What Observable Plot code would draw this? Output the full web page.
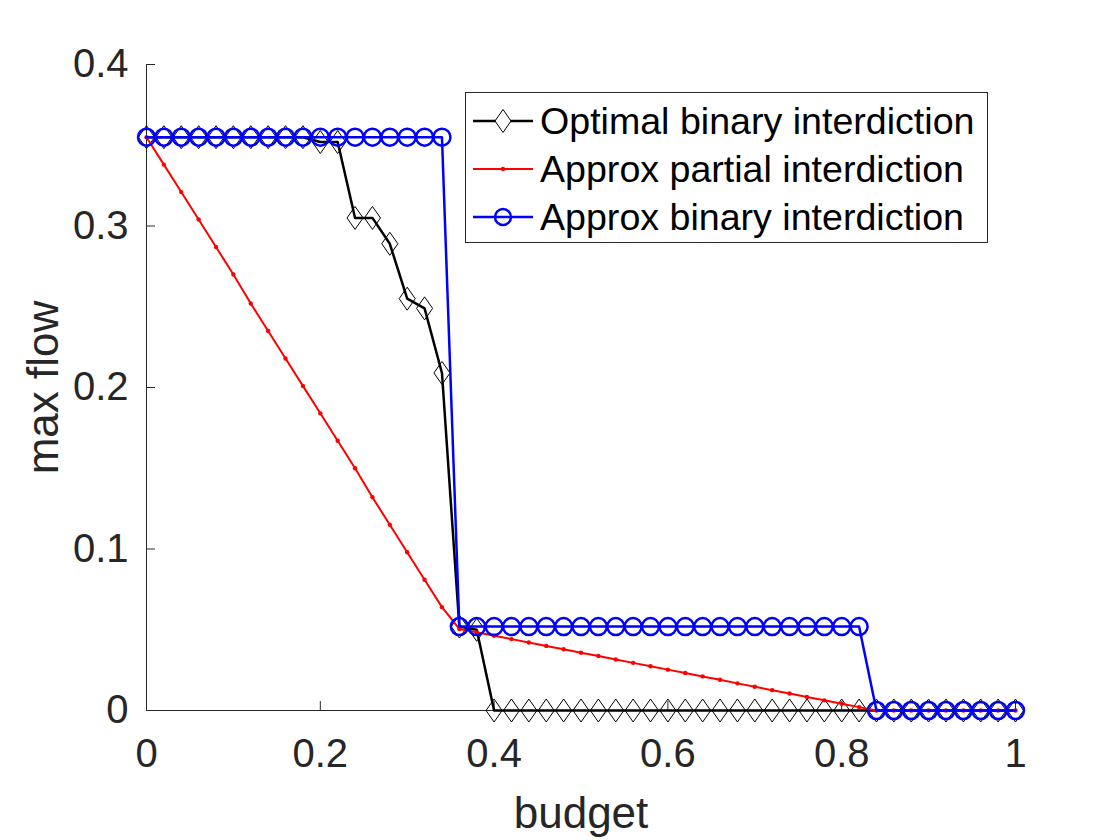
<!DOCTYPE html>
<html><head><meta charset="utf-8">
<script src="https://cdn.jsdelivr.net/npm/d3@7"></script>
<script src="https://cdn.jsdelivr.net/npm/@observablehq/plot@0.6"></script>
<style>
html,body{margin:0;padding:0;background:#fff;}
#wrap{position:relative;width:1120px;height:840px;font-family:"Liberation Sans",Arial,sans-serif;}
#chart svg{overflow:visible;display:block;}
#legend{position:absolute;left:465px;top:92px;width:523px;height:151px;border:1px solid #262626;background:#fff;box-sizing:border-box;}
.row{position:absolute;left:0;height:48px;display:flex;align-items:center;font-size:37.6px;color:#000;white-space:nowrap;}
.row svg{margin-left:7px;margin-right:7px;display:block;}
</style></head>
<body><div id="wrap"><div id="chart"></div><div id="legend"></div></div>
<script>
// ---- data ----
const budget = [0,0.02,0.04,0.06,0.08,0.10,0.12,0.14,0.16,0.18,0.20,0.22,0.24,0.26,0.28,0.30,0.32,0.34,0.36,0.38,0.40,0.42,0.44,0.46,0.48,0.50,0.52,0.54,0.56,0.58,0.60,0.62,0.64,0.66,0.68,0.70,0.72,0.74,0.76,0.78,0.80,0.82,0.84,0.86,0.88,0.90,0.92,0.94,0.96,0.98,1.00];
const optimalBinary = [0.355,0.355,0.355,0.355,0.355,0.355,0.355,0.355,0.355,0.355,0.352,0.352,0.305,0.305,0.289,0.255,0.249,0.209,0.052,0.050,0,0,0,0,0,0,0,0,0,0,0,0,0,0,0,0,0,0,0,0,0,0,0,0,0,0,0,0,0,0,0];
const approxPartial = [0.355,0.338,0.321,0.304,0.287,0.270,0.252,0.235,0.218,0.201,0.184,0.167,0.150,0.132,0.115,0.098,0.081,0.064,0.0505,0.0484,0.0463,0.0442,0.0421,0.0400,0.0379,0.0358,0.0337,0.0316,0.0295,0.0274,0.0253,0.0232,0.0211,0.0190,0.0168,0.0147,0.0126,0.0105,0.0084,0.0063,0.0042,0.0021,0,0,0,0,0,0,0,0,0];
const approxBinary = [0.355,0.355,0.355,0.355,0.355,0.355,0.355,0.355,0.355,0.355,0.355,0.355,0.355,0.355,0.355,0.355,0.355,0.355,0.052,0.052,0.052,0.052,0.052,0.052,0.052,0.052,0.052,0.052,0.052,0.052,0.052,0.052,0.052,0.052,0.052,0.052,0.052,0.052,0.052,0.052,0.052,0.052,0,0,0,0,0,0,0,0,0];
const seriesNames = ["Optimal binary interdiction","Approx partial interdiction","Approx binary interdiction"];
const seriesColors = ["#000000","#ff0000","#0000ff"];
const xTicks = [0,0.2,0.4,0.6,0.8,1];
const yTicks = [0,0.1,0.2,0.3,0.4];
const xLabel = "budget";
const yLabel = "max flow";

const rows = budget.map((b,i)=>({b, opt: optimalBinary[i], part: approxPartial[i], bin: approxBinary[i]}));

const diamond = {draw(ctx, size){ const r = Math.sqrt(size/Math.PI); const h = r, w = r*0.7;
  ctx.moveTo(0,-h); ctx.lineTo(w,0); ctx.lineTo(0,h); ctx.lineTo(-w,0); ctx.closePath(); }};

const fmt = d => String(+d.toFixed(1));
const axisColor = "#262626";

const chart = Plot.plot({
  width: 1120, height: 840,
  marginLeft: 146, marginRight: 105, marginTop: 64, marginBottom: 130,
  style: {fontFamily: "'Liberation Sans', Arial, sans-serif", background: "white", color: axisColor},
  x: {domain: [0,1]},
  y: {domain: [0,0.4]},
  marks: [
    Plot.ruleY([0], {stroke: axisColor, strokeWidth: 1}),
    Plot.ruleX([0], {stroke: axisColor, strokeWidth: 1}),
    Plot.axisX(xTicks, {tickSize: -9, tickPadding: 37, tickFormat: fmt, fontSize: 40, label: null}),
    Plot.axisY(yTicks, {tickSize: -9, tickPadding: 27, tickFormat: fmt, fontSize: 40, label: null}),
    Plot.text([xLabel], {text: d=>d, frameAnchor: "bottom", lineAnchor: "bottom", dy: 117, fontSize: 44, fill: axisColor}),
    Plot.text([yLabel], {text: d=>d, frameAnchor: "left", textAnchor: "middle", lineAnchor: "bottom", rotate: -90, dx: -89, fontSize: 44, fill: axisColor}),
    // Optimal binary
    Plot.line(rows, {x: "b", y: "opt", stroke: seriesColors[0], strokeWidth: 2.5}),
    Plot.dot(rows, {x: "b", y: "opt", symbol: diamond, r: 11.5, stroke: seriesColors[0], strokeWidth: 1, fill: "none"}),
    // Approx partial
    Plot.line(rows, {x: "b", y: "part", stroke: seriesColors[1], strokeWidth: 2}),
    Plot.dot(rows, {x: "b", y: "part", r: 2.2, fill: seriesColors[1], stroke: "none"}),
    // Approx binary
    Plot.line(rows, {x: "b", y: "bin", stroke: seriesColors[2], strokeWidth: 2.5}),
    Plot.dot(rows, {x: "b", y: "bin", r: 8.5, stroke: seriesColors[2], strokeWidth: 2.5, fill: "none"})
  ]
});
document.getElementById("chart").appendChild(chart);

// legend
const legend = document.getElementById("legend");
const markerSvg = [
  '<path d="M30,3.5 L38,15 L30,26.5 L22,15 Z" fill="#fff" stroke="#000" stroke-width="1"/>',
  '<circle cx="30" cy="15" r="2.2" fill="#ff0000"/>',
  '<circle cx="30" cy="15" r="8" fill="none" stroke="#0000ff" stroke-width="2.5"/>'
];
seriesNames.forEach((name,i)=>{
  const row = document.createElement("div");
  row.className = "row";
  row.style.top = (4 + i*48) + "px";
  row.innerHTML = '<svg width="60" height="30" viewBox="0 0 60 30"><line x1="0" y1="15" x2="60" y2="15" stroke="'+seriesColors[i]+'" stroke-width="'+(i===1?2:2.5)+'"/>'+markerSvg[i]+'</svg><span>'+name+'</span>';
  legend.appendChild(row);
});
</script>
</body></html>
